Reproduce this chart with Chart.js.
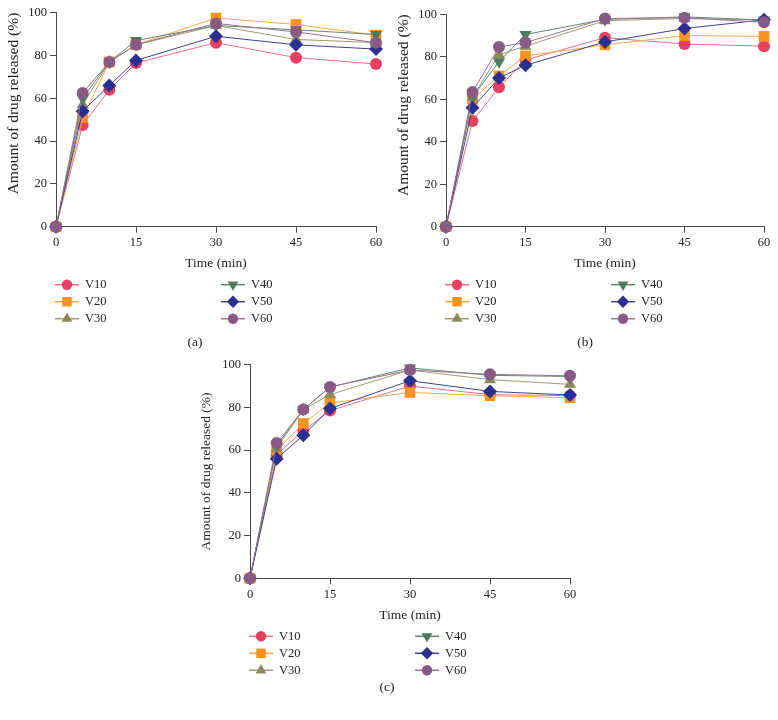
<!DOCTYPE html>
<html>
<head>
<meta charset="utf-8">
<script src="https://cdn.jsdelivr.net/npm/chart.js@4/dist/chart.umd.min.js"></script>
<style>
  body { margin: 0; background: #fff; }
  .panel { position: absolute; }
</style>
</head>
<body>
<div class="panel" style="left:0px;top:0px"><canvas id="chartA" width="390" height="360"></canvas></div>
<div class="panel" style="left:390px;top:0px"><canvas id="chartB" width="388" height="360"></canvas></div>
<div class="panel" style="left:190px;top:350px"><canvas id="chartC" width="390" height="370"></canvas></div>
<script>
const times = [0, 5, 10, 15, 30, 45, 60];
const xTicks = [0, 15, 30, 45, 60];
const seriesNames = ['V10', 'V20', 'V30', 'V40', 'V50', 'V60'];

// panel (a)
const aV10 = [0, 47.5, 64, 76.5, 86, 79, 76];
const aV20 = [0, 51, 77, 85, 97.5, 94.5, 89.5];
const aV30 = [0, 57, 77, 85, 94, 87.5, 86];
const aV40 = [0, 60, 77, 87, 94, 92, 89.8];
const aV50 = [0, 54, 66, 77.7, 89, 85, 83];
const aV60 = [0, 62.5, 77, 85, 95, 91, 86];

// panel (b)
const bV10 = [0, 49.8, 65.6, 78.5, 89, 86, 85];
const bV20 = [0, 60, 71, 80.4, 85.6, 90, 89.6];
const bV30 = [0, 61, 81, 85, 97, 98, 97.3];
const bV40 = [0, 61, 77.7, 90.5, 97.6, 98.8, 97.3];
const bV50 = [0, 56, 70, 76, 87, 93.3, 97.4];
const bV60 = [0, 63.4, 84.6, 86.7, 98, 98.4, 96.2];

// panel (c)
const cV10 = [0, 58, 69, 78.5, 90, 86, 85.5];
const cV20 = [0, 60, 72.5, 82, 87, 85.5, 84.5];
const cV30 = [0, 61, 79, 86, 97.5, 93, 90.8];
const cV40 = [0, 62, 79, 89.5, 98.5, 95, 94.5];
const cV50 = [0, 56, 67, 79.5, 92.5, 87.5, 85.8];
const cV60 = [0, 63.3, 79, 89.6, 97.5, 95.5, 94.8];

const colors = ['#e5405f', '#f7941d', '#8c8a5a', '#4d7c5a', '#2b2f8f', '#8a5a86'];
const lineColors = ['#ea6f88', '#f7a94a', '#9d9b70', '#5f8a6b', '#3d418f', '#9a7196'];
const styles = ['circle', 'rect', 'triangle', 'triangle', 'rectRot', 'circle'];
const rotations = [0, 0, 0, 180, 0, 0];
const radii = [6, 7.5, 7, 7, 7, 6];

const serif = "'Liberation Serif', 'DejaVu Serif', serif";
const axisColor = '#4a4a4a';

function makeDatasets(rows) {
  return rows.map((vals, i) => ({
    label: seriesNames[i],
    data: vals.map((v, j) => ({ x: times[j], y: v })),
    borderColor: lineColors[i],
    backgroundColor: colors[i],
    borderWidth: 1,
    pointStyle: styles[i],
    pointRotation: rotations[i],
    pointRadius: radii[i],
    pointBorderWidth: 0,
    pointBackgroundColor: colors[i],
    pointBorderColor: colors[i],
    order: 5 - i,
    clip: false,
    tension: 0
  }));
}

const panelLegend = {
  id: 'panelLegend',
  afterDraw(chart, args, opts) {
    const ctx = chart.ctx;
    const area = chart.chartArea;
    ctx.save();
    ctx.font = '12.5px ' + serif;
    ctx.textBaseline = 'middle';
    ctx.textAlign = 'left';
    seriesNames.forEach((name, i) => {
      const col = i < 3 ? 0 : 1;
      const row = i % 3;
      const mx = area.left + (col === 0 ? 11 : 177);
      const y = area.bottom + 58 + row * 17;
      ctx.strokeStyle = lineColors[i];
      ctx.lineWidth = 1.5;
      ctx.beginPath();
      ctx.moveTo(mx - 12, y);
      ctx.lineTo(mx + 12, y);
      ctx.stroke();
      ctx.fillStyle = colors[i];
      if (Chart.helpers && Chart.helpers.drawPoint) {
        Chart.helpers.drawPoint(ctx, {
          pointStyle: styles[i], rotation: rotations[i],
          radius: radii[i] - 0.8, borderWidth: 0
        }, mx, y);
      } else {
        ctx.beginPath();
        ctx.arc(mx, y, 5, 0, Math.PI * 2);
        ctx.fill();
      }
      ctx.fillStyle = '#222';
      ctx.fillText(name, mx + 18, y);
    });
    ctx.font = '13.5px ' + serif;
    ctx.textAlign = 'center';
    ctx.fillStyle = '#222';
    ctx.fillText(opts.caption, opts.captionX, opts.captionY);
    ctx.restore();
  }
};

function makeChart(id, rows, pad, yWidth, yTitleSize, yTitleAlign, caption, captionX, captionY) {
  new Chart(document.getElementById(id), {
    type: 'line',
    data: { datasets: makeDatasets(rows) },
    plugins: [panelLegend],
    options: {
      responsive: false,
      animation: false,
      layout: { padding: pad },
      plugins: {
        legend: { display: false },
        tooltip: { enabled: false },
        panelLegend: { caption: caption, captionX: captionX, captionY: captionY }
      },
      scales: {
        x: {
          type: 'linear',
          min: 0,
          max: 60,
          afterBuildTicks: (s) => { s.ticks = xTicks.map(v => ({ value: v })); },
          afterFit: (s) => { s.height = 45; },
          border: { display: true, color: axisColor, width: 1 },
          grid: { drawOnChartArea: false, drawTicks: true, tickLength: 6, color: axisColor },
          ticks: { color: '#222', padding: 3, maxRotation: 0, font: { family: serif, size: 12.5 } },
          title: {
            display: true, text: 'Time (min)', color: '#222',
            padding: { top: 4, bottom: 0 }, font: { family: serif, size: 13.5 }
          }
        },
        y: {
          min: 0,
          max: 100,
          afterFit: (s) => { s.width = yWidth; },
          border: { display: true, color: axisColor, width: 1 },
          grid: { drawOnChartArea: false, drawTicks: true, tickLength: 6, color: axisColor },
          ticks: { stepSize: 20, color: '#222', padding: 3, font: { family: serif, size: 12.5 } },
          title: {
            display: true, text: 'Amount of drug released (%)', color: '#222',
            align: yTitleAlign,
            padding: { top: 4.5, bottom: 0 }, font: { family: serif, size: yTitleSize }
          }
        }
      }
    }
  });
}

makeChart('chartA', [aV10, aV20, aV30, aV40, aV50, aV60],
  { left: 0, top: 12.7, right: 14, bottom: 88.3 }, 56, 15.5, 'end', '(a)', 195, 342);
makeChart('chartB', [bV10, bV20, bV30, bV40, bV50, bV60],
  { left: 0, top: 14.3, right: 14, bottom: 88.3 }, 56, 15.5, 'end', '(b)', 195, 342);
makeChart('chartC', [cV10, cV20, cV30, cV40, cV50, cV60],
  { left: 4, top: 14.7, right: 10, bottom: 96.7 }, 56, 13.5, 'center', '(c)', 197, 337);
</script>
</body>
</html>
